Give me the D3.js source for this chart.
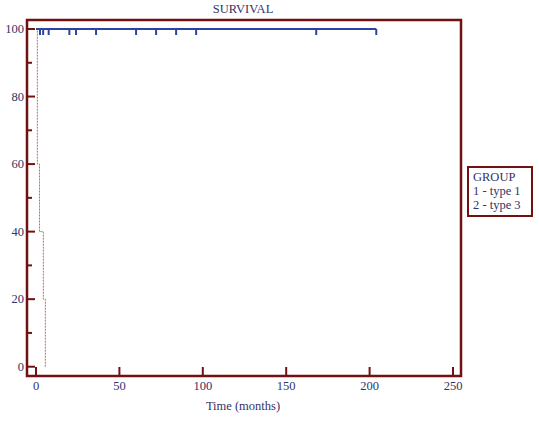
<!DOCTYPE html>
<html>
<head>
<meta charset="utf-8">
<script src="https://cdn.jsdelivr.net/npm/d3@7"></script>
<style>
  body { margin: 0; background: #fff; }
  text { font-family: "Liberation Serif", "DejaVu Serif", serif; fill: #333366; }
</style>
</head>
<body>
<svg width="539" height="426"></svg>
<script>
// The svg
var svg = d3.select("svg");

// Data: group 1 (type 1) stays at 100%, censored times in months
var group1Censored = [2.4, 4.3, 7.6, 20, 24, 36, 60, 72, 84, 96, 168];
var group1End = 204;
// group 2 (type 3) step curve: times and survival (%)
var group2Times = [0, 0.8, 2.1, 4.4, 5.6];
var group2Surv = [100, 60, 40, 20, 0];

var xTicks = [0, 50, 100, 150, 200, 250];
var yTicks = [0, 20, 40, 60, 80, 100];
var yMinor = [10, 30, 50, 70, 90];
var legendLines = ["GROUP", "1 - type 1", "2 - type 3"];

var frameColor = "#701212";

// scales
var x = d3.scaleLinear().domain([0, 250]).range([36, 453]);
var y = d3.scaleLinear().domain([0, 100]).range([366.7, 29]);

// frame
svg.append("rect")
    .attr("x", 27).attr("y", 20)
    .attr("width", 434).attr("height", 356)
    .attr("fill", "none")
    .attr("stroke", frameColor)
    .attr("stroke-width", 2.5);

// title
svg.append("text")
    .attr("x", 243).attr("y", 13)
    .attr("text-anchor", "middle")
    .style("font-size", "12.5px")
    .text("SURVIVAL");

// y ticks
svg.append("g").selectAll("line")
    .data(yTicks.concat(yMinor))
    .enter().append("line")
    .attr("x1", 27).attr("x2", function (d) { return yTicks.indexOf(d) >= 0 ? 35 : 32; })
    .attr("y1", function (d) { return y(d); })
    .attr("y2", function (d) { return y(d); })
    .attr("stroke", frameColor)
    .attr("stroke-width", 2);

svg.append("g").selectAll("text")
    .data(yTicks)
    .enter().append("text")
    .attr("x", 24)
    .attr("y", function (d) { return y(d) + 4; })
    .attr("text-anchor", "end")
    .style("font-size", "12.5px")
    .text(function (d) { return d; });

// x ticks
svg.append("g").selectAll("line")
    .data(xTicks)
    .enter().append("line")
    .attr("x1", function (d) { return x(d); })
    .attr("x2", function (d) { return x(d); })
    .attr("y1", 376).attr("y2", 367)
    .attr("stroke", frameColor)
    .attr("stroke-width", 2);

svg.append("g").selectAll("text")
    .data(xTicks)
    .enter().append("text")
    .attr("x", function (d) { return x(d); })
    .attr("y", 390)
    .attr("text-anchor", "middle")
    .style("font-size", "12.5px")
    .text(function (d) { return d; });

svg.append("text")
    .attr("x", 243).attr("y", 410)
    .attr("text-anchor", "middle")
    .style("font-size", "12.5px")
    .text("Time (months)");

// group 2 step curve (dotted)
var stepPts = [];
group2Times.forEach(function (t, i) {
    if (i > 0) stepPts.push([t, group2Surv[i - 1]]);
    stepPts.push([t, group2Surv[i]]);
});
svg.append("path")
    .datum(stepPts)
    .attr("d", d3.line()
        .x(function (d) { return x(d[0]); })
        .y(function (d) { return y(d[1]); }))
    .attr("fill", "none")
    .attr("stroke", "#c86a56")
    .attr("stroke-width", 1)
    .attr("stroke-dasharray", "2,1");

// group 1 line at 100%
svg.append("line")
    .attr("x1", x(0)).attr("x2", x(group1End))
    .attr("y1", y(100)).attr("y2", y(100))
    .attr("stroke", "#2a44a0")
    .attr("stroke-width", 2);

// censor marks
svg.append("g").selectAll("line")
    .data(group1Censored.concat([group1End]))
    .enter().append("line")
    .attr("x1", function (d) { return x(d); })
    .attr("x2", function (d) { return x(d); })
    .attr("y1", y(100)).attr("y2", y(100) + 6)
    .attr("stroke", "#2a44a0")
    .attr("stroke-width", 2);

// legend
svg.append("rect")
    .attr("x", 468).attr("y", 167)
    .attr("width", 64).attr("height", 49)
    .attr("fill", "#fff")
    .attr("stroke", frameColor)
    .attr("stroke-width", 2);

svg.append("g").selectAll("text")
    .data(legendLines)
    .enter().append("text")
    .attr("x", 473)
    .attr("y", function (d, i) { return 181 + i * 14; })
    .style("font-size", "12.5px")
    .text(function (d) { return d; });
</script>
</body>
</html>
